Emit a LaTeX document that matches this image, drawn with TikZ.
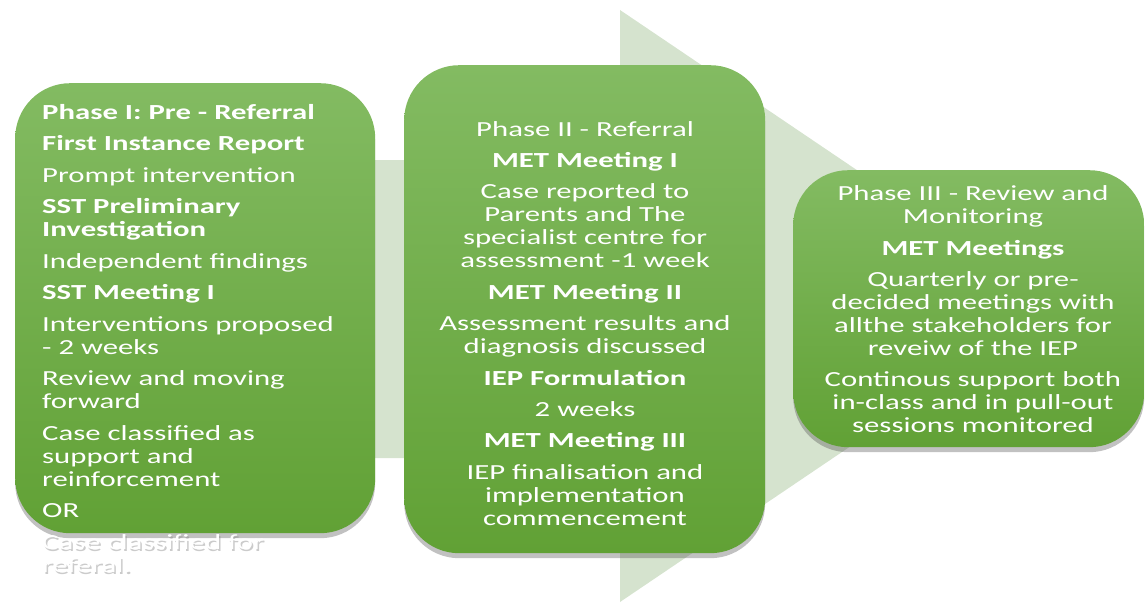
\documentclass[tikz,border=0pt]{standalone}
\usepackage{fontspec}
\setmainfont{Carlito}[FakeStretch=1.43]
\usetikzlibrary{shadows}
\definecolor{arrowgreen}{RGB}{213,227,206}
\definecolor{boxtop}{RGB}{131,187,98}
\definecolor{boxbot}{RGB}{97,161,53}
\begin{document}
\begin{tikzpicture}[x=1pt,y=-1pt,
  phasebox/.style={rounded corners=55pt, top color=boxtop, bottom color=boxbot, draw=none,
    drop shadow={shadow xshift=0pt,shadow yshift=-5pt,opacity=0.35,fill=black!70},
    minimum width=#1, anchor=north west, inner sep=0pt},
  txt/.style={text=white, font=\fontsize{21.5}{23}\selectfont, inner sep=0pt}]
\useasboundingbox (0,0) rectangle (1145,602);
% background arrow
\fill[arrowgreen] (100,160) -- (620,160) -- (620,10) -- (1058,306) -- (620,602) -- (620,458) -- (100,458) -- cycle;
% boxes
\node[phasebox=360pt, minimum height=450pt] (b1) at (15,83) {};
\node[phasebox=361pt, minimum height=488pt] (b2) at (404,65) {};
\node[phasebox=351pt, minimum height=277pt] (b3) at (793,170) {};
% box 1 text
\node[txt, align=left, anchor=north west] (t1) at (42,104) {%
\textbf{Phase I: Pre - Referral}\\[8.5pt]
\textbf{First Instance Report}\\[8.5pt]
Prompt intervention\\[8.5pt]
\textbf{SST Preliminary}\\
\textbf{Investigation}\\[8.5pt]
Independent findings\\[8.5pt]
\textbf{SST Meeting I}\\[8.5pt]
Interventions proposed\\
- 2 weeks\\[8.5pt]
Review and moving\\
forward\\[8.5pt]
Case classified as\\
support and\\
reinforcement\\[8.5pt]
OR};
\node[txt, align=left, anchor=north west, text=black!45, opacity=0.45] (t1s) at (43.5,536) {Case classified for\\referal.};
\node[txt, align=left, anchor=north west] (t1b) at (42,534) {Case classified for\\referal.};
% box 2 text
\node[txt, align=center, anchor=north] (t2) at (585,121) {%
Phase II - Referral\\[8.4pt]
\textbf{MET Meeting I}\\[8.4pt]
Case reported to\\
Parents and The\\
specialist centre for\\
assessment -1 week\\[8.4pt]
\textbf{MET Meeting II}\\[8.4pt]
Assessment results and\\
diagnosis discussed\\[8.4pt]
\textbf{IEP Formulation}\\[8.4pt]
2 weeks\\[8.4pt]
\textbf{MET Meeting III}\\[8.4pt]
IEP finalisation and\\
implementation\\
commencement};
% box 3 text
\node[txt, align=center, anchor=north] (t3) at (973,185) {%
Phase III - Review and\\
Monitoring\\[9pt]
\textbf{MET Meetings}\\[8pt]
Quarterly or pre-\\
decided meetings with\\
allthe stakeholders for\\
reveiw of the IEP\\[8pt]
Continous support both\\
in-class and in pull-out\\
sessions monitored};
\end{tikzpicture}
\end{document}
